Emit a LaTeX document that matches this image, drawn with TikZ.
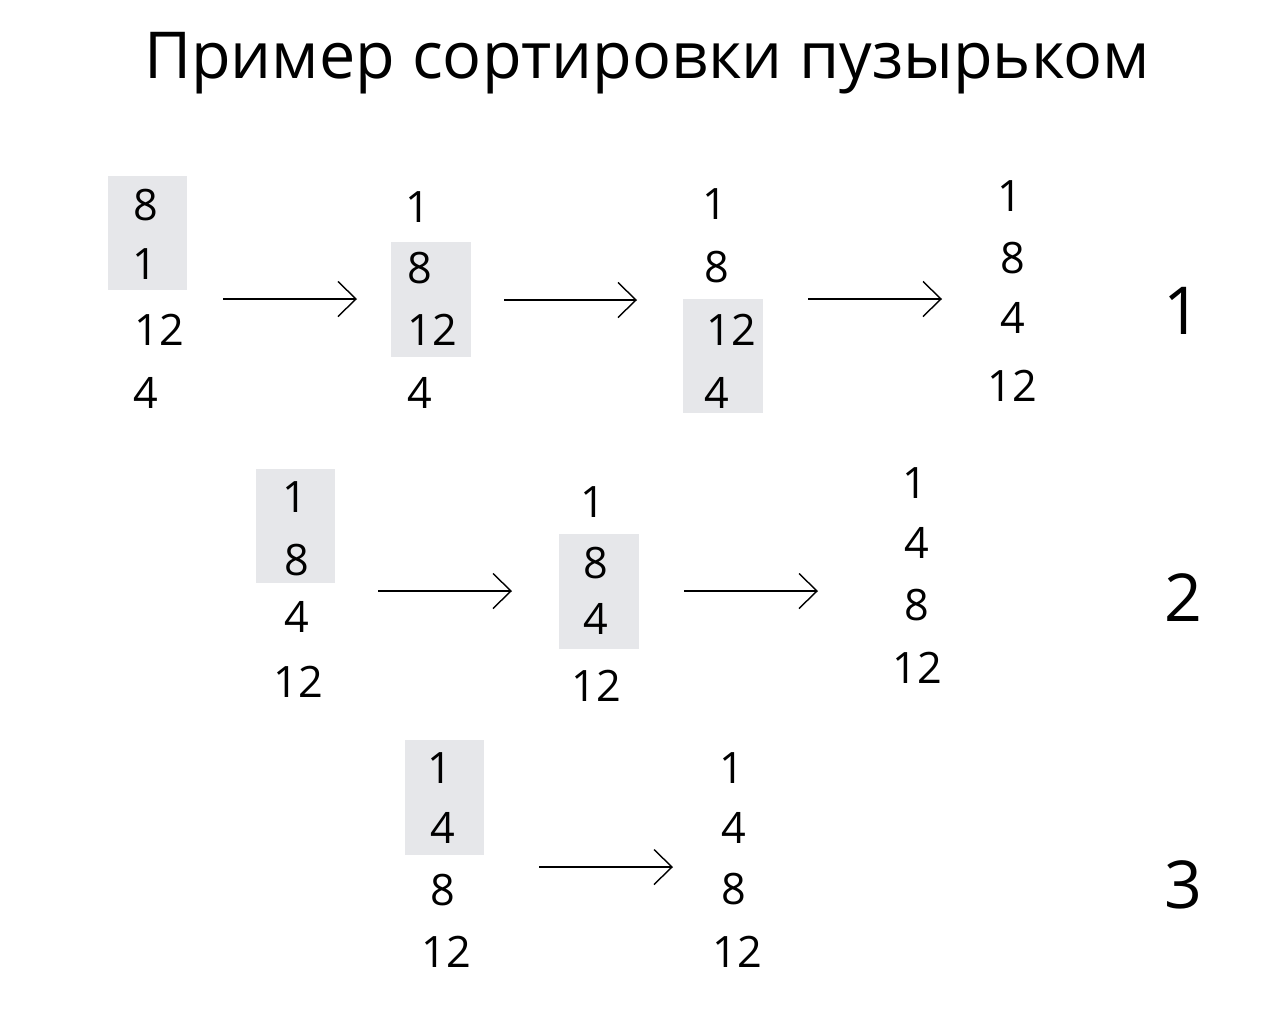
\documentclass[tikz,border=0pt]{standalone}
\usepackage{fontspec}
\setmainfont{Open Sans}
\usetikzlibrary{arrows.meta,positioning}
\definecolor{boxgray}{RGB}{230,231,234}
\tikzset{
  % gray field behind the two numbers that are compared
  pair/.style={rectangle, fill=boxgray, inner sep=0pt,
  minimum width=0.79cm,
  minimum height=1.14cm},
  num/.style={inner sep=0pt, font=\fontsize{12.3}{14}\selectfont},
  passno/.style={inner sep=0pt, font=\fontsize{18.8}{22}\selectfont},
  nextarrow/.style={-{Straight Barb[length=1.8mm, width=3.5mm]}, line width=0.4pt}}

\begin{document}
\begin{tikzpicture}[x=0.01cm, y=-0.01cm]
\useasboundingbox (0,0) rectangle (1274,1024);

\draw (647,78) node (title) [anchor=base, inner sep=0pt, font=\fontsize{18.4}{22}\selectfont] {Пример сортировки пузырьком};

% pass 1
\draw (147.5,233) node (bxa1) [pair] {};
\draw (146,205) node (a11) [num] {8};
\draw (145,264) node (a12) [num] {1};
\draw (159,330) node (a13) [num] {12};
\draw (146,393) node (a14) [num] {4};

\coordinate (s11) at (223,299);
\coordinate (e11) at (357,299);
\draw [nextarrow] (s11) -- (e11);

\draw (431,299.5) node (bxb1) [pair] {};
\draw (418,207) node (b11) [num] {1};
\draw (420,268) node (b12) [num] {8};
\draw (432,330) node (b13) [num] {12};
\draw (420,393) node (b14) [num] {4};

\coordinate (s12) at (504,300);
\coordinate (e12) at (637,300);
\draw [nextarrow] (s12) -- (e12);

\draw (723,356) node (bxc1) [pair] {};
\draw (715,204) node (c11) [num] {1};
\draw (717,267) node (c12) [num] {8};
\draw (731,330) node (c13) [num] {12};
\draw (717,393) node (c14) [num] {4};

\coordinate (s13) at (808,299);
\coordinate (e13) at (942,299);
\draw [nextarrow] (s13) -- (e13);

\draw (1010,196) node (d11) [num] {1};
\draw (1013,258) node (d12) [num] {8};
\draw (1013,318) node (d13) [num] {4};
\draw (1012,386) node (d14) [num] {12};

\draw (1182,311) node (p1) [passno] {1};

% pass 2
\draw (295.5,526) node (bxa2) [pair] {};
\draw (295,497) node (a21) [num] {1};
\draw (297,560) node (a22) [num] {8};
\draw (297,617) node (a23) [num] {4};
\draw (298,682) node (a24) [num] {12};

\coordinate (s21) at (378,591);
\coordinate (e21) at (512,591);
\draw [nextarrow] (s21) -- (e21);

\draw (599,591.5) node (bxb2) [pair] {};
\draw (593,502) node (b21) [num] {1};
\draw (596,563) node (b22) [num] {8};
\draw (596,619) node (b23) [num] {4};
\draw (596,686) node (b24) [num] {12};

\coordinate (s22) at (684,591);
\coordinate (e22) at (818,591);
\draw [nextarrow] (s22) -- (e22);

\draw (915,483) node (c21) [num] {1};
\draw (917,543) node (c22) [num] {4};
\draw (917,605) node (c23) [num] {8};
\draw (917,668) node (c24) [num] {12};

\draw (1183,598) node (p2) [passno] {2};

% pass 3
\draw (444.5,797.5) node (bxa3) [pair] {};
\draw (440,768) node (a31) [num] {1};
\draw (443,828) node (a32) [num] {4};
\draw (443,890) node (a33) [num] {8};
\draw (446,952) node (a34) [num] {12};

\coordinate (s31) at (539,867);
\coordinate (e31) at (673,867);
\draw [nextarrow] (s31) -- (e31);

\draw (732,768) node (b31) [num] {1};
\draw (734,828) node (b32) [num] {4};
\draw (734,889) node (b33) [num] {8};
\draw (737,952) node (b34) [num] {12};

\draw (1183,885) node (p3) [passno] {3};

\end{tikzpicture}
\end{document}
